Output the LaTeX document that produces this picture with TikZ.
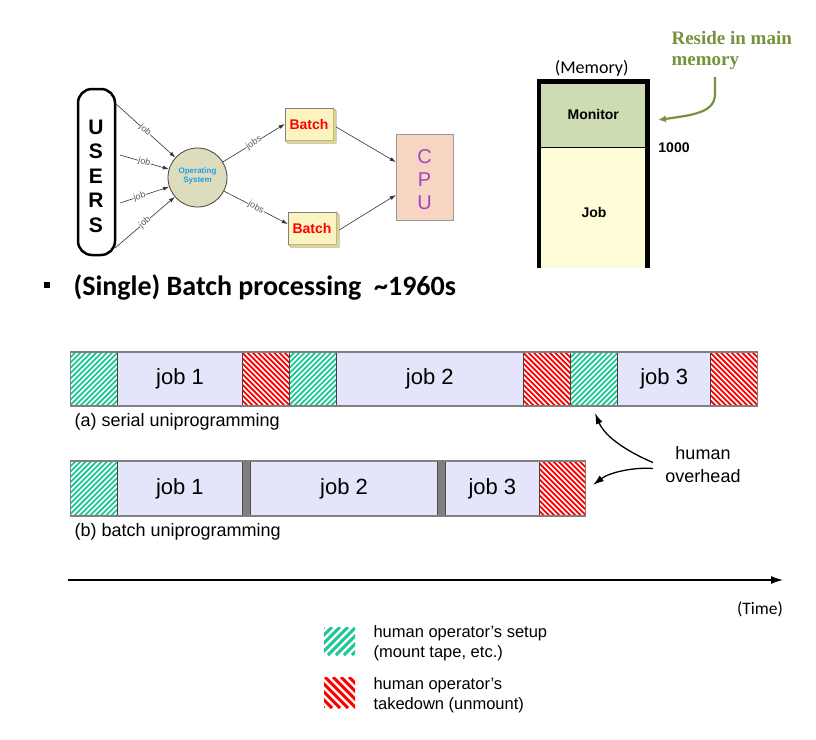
\documentclass[tikz,border=0pt]{standalone}
\usepackage{fontspec}
\setmainfont{Liberation Sans}
\newfontfamily\calib{Carlito}
\newfontfamily\serifb{Liberation Serif}
\usetikzlibrary{arrows.meta}
\newcommand\fsz[2]{\fontsize{#1}{#2}\selectfont}
\definecolor{hgreen}{RGB}{30,200,150}
\definecolor{hred}{RGB}{255,0,0}
\definecolor{jobfill}{RGB}{228,228,250}
\definecolor{osfill}{RGB}{221,221,190}
\definecolor{batchfill}{RGB}{252,244,192}
\definecolor{batchside}{RGB}{222,212,140}
\definecolor{cpufill}{RGB}{248,213,194}
\definecolor{cpupurple}{RGB}{160,70,190}
\definecolor{oscyan}{RGB}{30,160,230}
\definecolor{monfill}{RGB}{205,220,178}
\definecolor{memjob}{RGB}{255,253,215}
\definecolor{rgreen}{RGB}{118,146,60}
\definecolor{bargray}{RGB}{128,128,128}
% #1 x1 #2 y1 #3 x2 #4 y2 #5 color #6 period #7 lw #8 dir (1 = /, 0 = \)
\newcommand\hatchbox[8]{%
  \begin{scope}
  \clip (#1,#2) rectangle (#3,#4);
  \fill[white] (#1,#2) rectangle (#3,#4);
  \pgfmathsetmacro\hhh{#4-#2}
  \pgfmathsetmacro\hstA{#1-\hhh}
  \pgfmathsetmacro\hstB{#1-\hhh+#6}
  \foreach \s in {\hstA,\hstB,...,#3}{
    \ifnum#8=1
      \draw[#5,line width=#7] (\s,#4) -- ++(\hhh,-\hhh);
    \else
      \draw[#5,line width=#7] (\s,#2) -- ++(\hhh,\hhh);
    \fi
  }
  \end{scope}}
\tikzset{
  conn/.style={draw=black!80, line width=0.6pt, -{Latex[length=6pt,width=4pt]}},
  jl/.style={font=\fsz{9}{10}, text=black!65, fill=white, inner sep=0.4pt},
  batchbox/.style={draw=black!50, fill=batchfill, minimum width=48pt, minimum height=32pt, inner sep=0, text=red, font=\fsz{14}{16}\bfseries},
  jobseg/.style={fill=jobfill, inner sep=0, font=\fsz{22}{26}},
  segline/.style={draw=black!75, line width=0.6pt},
  barframe/.style={draw=bargray, line width=1.2pt},
  sepbar/.style={fill=bargray, draw=black!70, line width=0.5pt},
  ovarrow/.style={line width=1.3pt, -{Latex[length=11pt,width=7pt]}}
}
\begin{document}
\begin{tikzpicture}[x=1pt,y=-1pt]
\useasboundingbox (0,0) rectangle (816,739);
\fill[white] (0,0) rectangle (816,739);

% ---------- users / OS / batch / CPU ----------
\node[draw, line width=2.5pt, rounded corners=14pt, minimum width=37pt, minimum height=166pt, inner sep=0] (users) at (96.5,172) {};
\node[font=\fsz{21}{24.5}\bfseries, align=center] (userstext) at (96,176) {U\\S\\E\\R\\S};

\node[circle, draw=black!75, fill=osfill, minimum size=59pt, inner sep=0, line width=0.8pt] (os) at (197.5,177.5) {};
\node[text=oscyan, font=\fsz{8}{9.5}\bfseries, align=center, inner sep=0] (ostext) at (197.5,176) {Operating\\System};

\node[batchbox] (b1) at (309,124) {Batch};
\draw[fill=batchside, draw=black!50] (b1.north east) -- ++(3,3) -- ([shift={(3,3)}]b1.south east) -- ([shift={(3,3)}]b1.south west) -- (b1.south west) -- (b1.south east) -- cycle;
\node[batchbox] (b2) at (312,228) {Batch};
\draw[fill=batchside, draw=black!50] (b2.north east) -- ++(3,3) -- ([shift={(3,3)}]b2.south east) -- ([shift={(3,3)}]b2.south west) -- (b2.south west) -- (b2.south east) -- cycle;

\node[draw=black!40, fill=cpufill, minimum width=57pt, minimum height=86pt, inner sep=0] (cpu) at (424.5,177) {};
\node[text=cpupurple, font=\fsz{20}{23}, align=center] (cputext) at (424.5,180) {C\\P\\U};

\coordinate (u1) at (115,103);
\coordinate (u2) at (120,155);
\coordinate (u3) at (120,203);
\coordinate (u4) at (115,248);
\draw[conn] (u1) -- node[jl,sloped] {job} (os);
\draw[conn] (u2) -- node[jl,sloped] {job} (os);
\draw[conn] (u3) -- node[jl,sloped,pos=0.4] {job} (os);
\draw[conn] (u4) -- node[jl,sloped] {job} (os);
\draw[conn] (os) -- node[jl,sloped] {jobs} (b1.west);
\draw[conn] (os) -- node[jl,sloped] {jobs} ([yshift=4pt]b2.west);
\draw[conn] ([shift={(3,3)}]b1.east) -- ([yshift=15pt]cpu.west);
\draw[conn] ([shift={(3,2)}]b2.east) -- ([yshift=-18pt]cpu.west);

% ---------- memory ----------
\node[fill=monfill, minimum width=108.5pt, minimum height=65.3pt, inner sep=0, font=\fsz{14}{16}\bfseries] (mon) at (593.25,114.35) {Monitor};
\node[fill=memjob, minimum width=108.5pt, minimum height=121pt, inner sep=0] (memjob) at (593.25,207.5) {};
\node[font=\fsz{14}{16}\bfseries] (jobtext) at (594,212.5) {Job};
\draw[line width=0.6pt] (mon.south west) -- (mon.south east);
\draw[line width=4.6pt] (539,268) -- (539,81.7) -- (647.5,81.7) -- (647.5,268);
\node[font=\calib\fsz{18}{20}] (memlabel) at (591.7,68) {(Memory)};
\node[font=\fsz{14}{16}\bfseries] (k1000) at (674,147.5) {1000};
\node[anchor=west, align=left, text=rgreen, font=\serifb\bfseries\fsz{19}{21.5}] (reside) at (668,50.5) {Reside in main\\memory};
\coordinate (rs) at (715,77);
\coordinate (rt) at (658,120);
\draw[rgreen, line width=2.2pt, -{Latex[length=8pt,width=7pt]}] (rs) -- (715,94) .. controls (715,113) and (692,115) .. (rt);

% ---------- title ----------
\node[fill, minimum size=6pt, inner sep=0] (bullet) at (46.5,284.5) {};
\node[anchor=west, font=\calib\bfseries\fsz{28}{32}] (title) at (70,287) {(Single) Batch processing\ \ \textasciitilde1960s};

% ---------- (a) serial ----------
\hatchbox{70.5}{352}{117.5}{406}{hgreen}{5.3}{1.8pt}{1}
\node[jobseg, minimum width=125pt, minimum height=54pt] (a1) at (180,379) {job 1};
\hatchbox{242.5}{352}{289.5}{406}{hred}{5.3}{1.8pt}{0}
\hatchbox{289.5}{352}{336}{406}{hgreen}{5.3}{1.8pt}{1}
\node[jobseg, minimum width=187.5pt, minimum height=54pt] (a2) at (429.75,379) {job 2};
\hatchbox{523.5}{352}{570.7}{406}{hred}{5.3}{1.8pt}{0}
\hatchbox{570.7}{352}{617.7}{406}{hgreen}{5.3}{1.8pt}{1}
\node[jobseg, minimum width=93pt, minimum height=54pt] (a3) at (664.2,379) {job 3};
\hatchbox{710.7}{352}{757.7}{406}{hred}{5.3}{1.8pt}{0}
\foreach \xx in {117.5,242.5,289.5,336,523.5,570.7,617.7,710.7}{\draw[segline] (\xx,352) -- (\xx,406);}
\draw[barframe] (70.5,352) rectangle (757.7,406);
\node[anchor=west, font=\fsz{18}{20}] (alabel) at (71,422) {(a) serial uniprogramming};

% ---------- (b) batch ----------
\hatchbox{70.5}{461}{117.5}{516}{hgreen}{5.3}{1.8pt}{1}
\node[jobseg, minimum width=124.8pt, minimum height=55pt] (bj1) at (179.9,488.5) {job 1};
\node[sepbar, minimum width=8.4pt, minimum height=55pt, inner sep=0] (bs1) at (246.5,488.5) {};
\node[jobseg, minimum width=186.6pt, minimum height=55pt] (bj2) at (344,488.5) {job 2};
\node[sepbar, minimum width=8.4pt, minimum height=55pt, inner sep=0] (bs2) at (441.5,488.5) {};
\node[jobseg, minimum width=93.3pt, minimum height=55pt] (bj3) at (492.35,488.5) {job 3};
\hatchbox{539}{461}{585.7}{516}{hred}{5.3}{1.8pt}{0}
\foreach \xx in {117.5,539}{\draw[segline] (\xx,461) -- (\xx,516);}
\draw[barframe] (70.5,461) rectangle (585.7,516);
\node[anchor=west, font=\fsz{18}{20}] (blabel) at (71,532) {(b) batch uniprogramming};

% ---------- human overhead ----------
\node[align=center, font=\fsz{18}{23}] (ho) at (703,464.5) {human\\overhead};
\coordinate (tipA) at (595,413);
\coordinate (tipB) at (593,485);
\draw[ovarrow] ([shift={(-9,-2)}]ho.west) .. controls (628,452) and (605,437) .. (tipA);
\draw[ovarrow] ([shift={(-9,4)}]ho.west) .. controls (635,467) and (610,472) .. (tipB);

% ---------- time axis ----------
\coordinate (t0) at (68,580);
\coordinate (t1) at (783,580);
\draw[line width=1.2pt, -{Latex[length=12pt,width=8pt]}] (t0) -- (t1);
\node[font=\calib\fsz{17.5}{20}] (timelabel) at (760,609) {(Time)};

% ---------- legend ----------
\hatchbox{324}{627}{355}{655}{hgreen}{8}{3pt}{1}
\hatchbox{324}{677}{355}{708}{hred}{8}{3pt}{0}
\node[anchor=west, align=left, font=\fsz{16.5}{20}] (leg1) at (370,643) {human operator’s setup\\(mount tape, etc.)};
\node[anchor=west, align=left, font=\fsz{16.5}{20}] (leg2) at (370,695) {human operator’s\\takedown (unmount)};
\end{tikzpicture}
\end{document}
